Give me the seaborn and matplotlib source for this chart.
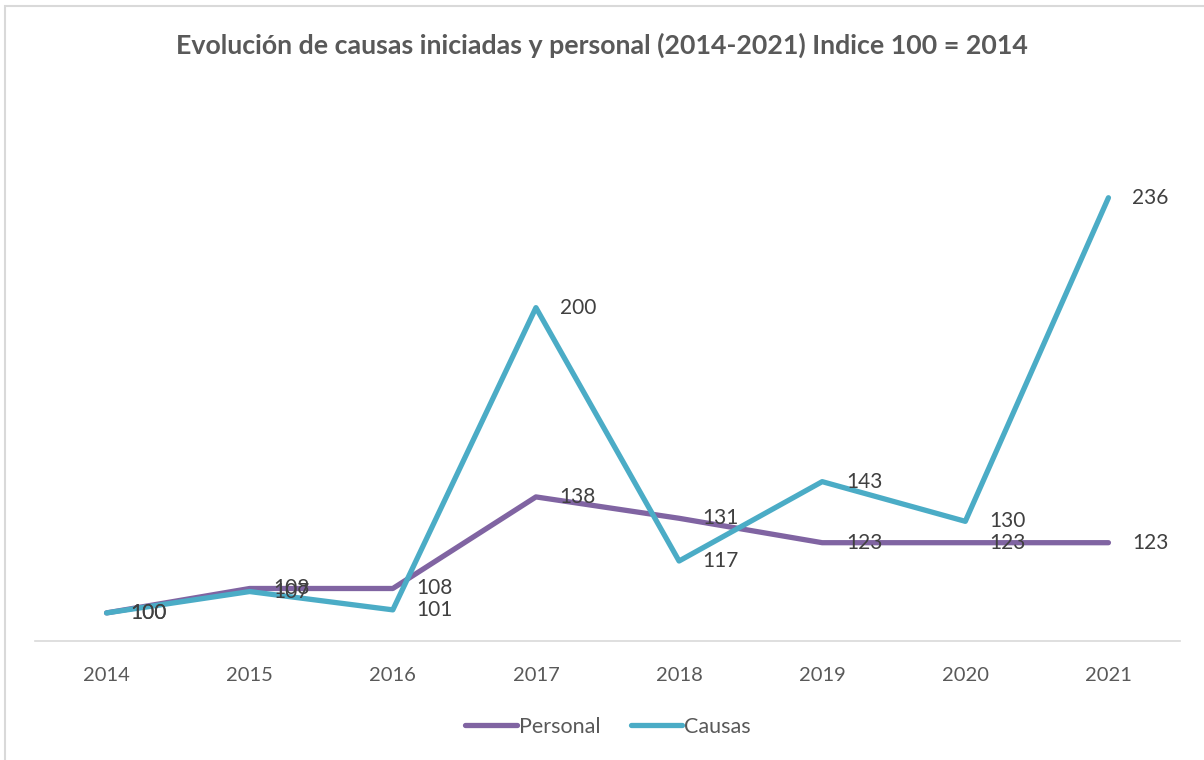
import pandas as pd
import matplotlib.pyplot as plt
import seaborn as sns
from matplotlib.patches import Rectangle

years = ['2014', '2015', '2016', '2017', '2018', '2019', '2020', '2021']
personal = [100, 108, 108, 138, 131, 123, 123, 123]
causas = [100, 107, 101, 200, 117, 143, 130, 236]
series_names = ['Personal', 'Causas']
series_colors = ['#8064A2', '#4BACC6']

df = pd.DataFrame({
    'year': years * 2,
    'value': personal + causas,
    'serie': [series_names[0]] * len(years) + [series_names[1]] * len(years),
})
df['pos'] = df['year'].map({y: i for i, y in enumerate(years)})

sns.set_theme(style="white")
plt.rcParams['font.family'] = ['Lato', 'DejaVu Sans']

fig = plt.figure(figsize=(12.04, 7.6), dpi=100)
fig.patch.set_facecolor('white')
ax = fig.add_axes([35 / 1204, 1 - 641 / 760, (1180 - 35) / 1204, (641 - 155) / 760])

sns.lineplot(data=df, x='pos', y='value', hue='serie', palette=series_colors,
             linewidth=3.8, ax=ax, legend=True, solid_capstyle='round')

# data labels to the right of each point, like Excel
for name, color in zip(series_names, series_colors):
    sub = df[df['serie'] == name]
    for x, v in zip(sub['pos'], sub['value']):
        ax.annotate(str(v), (x, v), xytext=(17, 0), textcoords='offset points',
                    va='center', ha='left', fontsize=15, color='#404040', zorder=5)

ax.set_xlim(-0.5, 7.5)
ax.set_ylim(90.8, 250)
ax.set_xticks(range(len(years)))
ax.set_xticklabels(years)
ax.set_yticks([])
ax.set_xlabel('')
ax.set_ylabel('')
ax.tick_params(axis='x', colors='#595959', labelsize=14.5, length=0, pad=19)
for side in ['top', 'right', 'left']:
    ax.spines[side].set_visible(False)
ax.spines['bottom'].set_color('#d9d9d9')
ax.spines['bottom'].set_linewidth(1.2)

ax.legend(loc='center', bbox_to_anchor=(0.505, (760 - 727) / 760), bbox_transform=fig.transFigure,
          ncol=2, frameon=False, fontsize=15.5, handlelength=2.4, handletextpad=0.1,
          columnspacing=1.4, labelcolor='#595959')

fig.text(0.5, 1 - 45 / 760, 'Evolución de causas iniciadas y personal (2014-2021) Indice 100 = 2014',
         ha='center', va='center', fontsize=19.3, fontweight='bold', color='#595959')

fig.patches.append(Rectangle((5 / 1204, -0.1), 1.2, 1 - 6 / 760 + 0.1, transform=fig.transFigure,
                             fill=False, edgecolor='#d9d9d9', linewidth=1.5))

fig.savefig('out.png', dpi=100, facecolor='white')
